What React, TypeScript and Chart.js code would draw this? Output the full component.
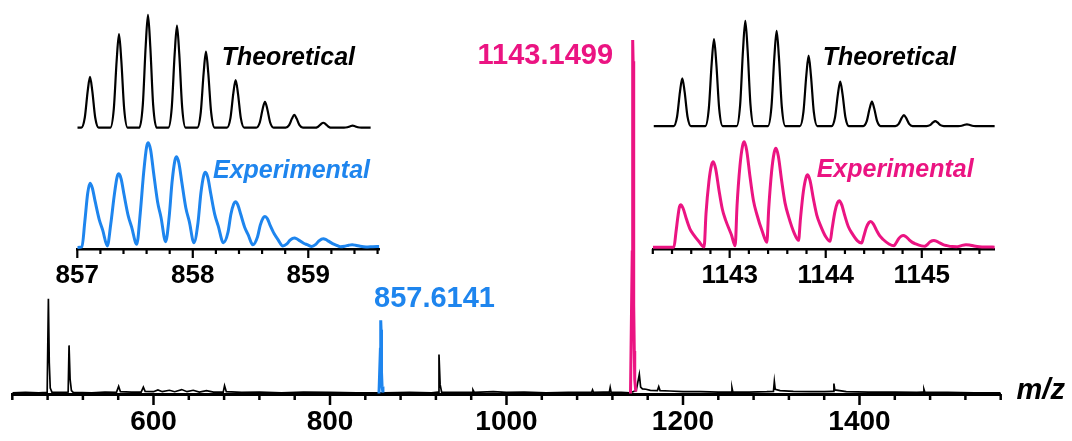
import React, { useEffect, useRef } from "react";
import { Chart, registerables } from "chart.js";

Chart.register(...registerables);

const FONT = '"Liberation Sans", Arial, Helvetica, sans-serif';
const BLUE = "#1E85EE";
const PINK = "#EB1482";

// ---------------- Main spectrum (m/z vs relative intensity, %) ----------------
const specMz = [
  440, 455, 470, 479.5, 480.9, 481.9, 483, 485, 500, 503.3, 504.3, 505.5, 507, 509,
  530, 545, 558, 560.5, 562.5, 575, 586, 588.5, 590.5, 600, 605, 610, 618, 624, 632, 638,
  645, 652, 660, 668, 679, 680.5, 682.5, 700, 720, 745, 770, 800, 830, 855,
  862, 890, 915, 922.5, 923.5, 924.8, 926.5, 945, 961, 962, 963.5, 985, 1000, 1020, 1045,
  1070, 1096.5, 1097.5, 1098.5, 1110, 1116.5, 1117.5, 1118.5, 1130, 1140,
  1147, 1150.5, 1152, 1154, 1158, 1163, 1171, 1172.5, 1174, 1185, 1200, 1220, 1240,
  1254.5, 1255.5, 1256.5, 1275, 1295, 1302.5, 1303.5, 1304.5, 1310, 1325, 1345, 1360,
  1370, 1371, 1372, 1385, 1410, 1440, 1465, 1472, 1473, 1474, 1500, 1530, 1560,
];
const specInt = [
  0.2, 0.3, 0.2, 0.3, 26.8, 8.7, 1.5, 0.3, 0.3, 0.4, 13.6, 4, 0.8, 0.3,
  0.2, 0.4, 0.3, 2, 0.5, 0.4, 0.4, 1.8, 0.6, 0.5, 1.0, 0.5, 0.9, 0.5, 1.1, 0.5,
  0.9, 0.4, 0.8, 0.4, 0.4, 2.2, 0.5, 0.3, 0.4, 0.2, 0.4, 0.3, 0.2, 0.2,
  0.2, 0.3, 0.2, 0.4, 11, 2.5, 0.4, 0.3, 0.3, 1, 0.3, 0.5, 0.3, 0.4, 0.2,
  0.3, 0.3, 1, 0.3, 0.4, 0.4, 1.7, 0.4, 0.3, 0.2,
  0.8, 5.4, 1.8, 1.3, 1.2, 0.9, 0.8, 1.9, 0.8, 0.7, 0.5, 0.5, 0.4,
  0.4, 1.6, 0.4, 0.4, 0.5, 0.6, 3.4, 1.2, 0.8, 0.6, 0.5, 0.5,
  0.6, 2.8, 1, 0.5, 0.4, 0.4, 0.3, 0.4, 1.2, 0.4, 0.3, 0.2, 0.2,
];
const blueMz = [855.5, 857.1, 857.36, 857.61, 857.86, 858.11, 858.37, 858.63, 859, 860];
const blueInt = [0, 12.5, 17, 20.7, 18, 14.5, 9, 6, 2, 0.3];
const pinkMz = [1140.5, 1142.49, 1142.83, 1143.15, 1143.48, 1143.81, 1144.14, 1144.47, 1144.81, 1145.3, 1146.5];
const pinkInt = [0, 40, 81, 100, 94, 69, 44, 25, 12, 4, 0.5];

const mainMajorTicks = [600, 800, 1000, 1200, 1400];
const mainMinorTicks = [
  440, 480, 520, 560, 640, 680, 720, 760, 840, 880, 920, 960, 1040, 1080, 1120, 1160,
  1240, 1280, 1320, 1360, 1440, 1480, 1520, 1560,
];

// ---------------- Left inset: 857.6141 isotope pattern ----------------
const leftTheoMz = [
  857.0,
  857.035, 857.065, 857.09, 857.11, 857.13, 857.155, 857.185,
  857.286, 857.316, 857.341, 857.361, 857.381, 857.406, 857.436,
  857.537, 857.567, 857.592, 857.612, 857.632, 857.657, 857.687,
  857.788, 857.818, 857.843, 857.863, 857.883, 857.908, 857.938,
  858.039, 858.069, 858.094, 858.114, 858.134, 858.159, 858.189,
  858.296, 858.326, 858.351, 858.371, 858.391, 858.416, 858.446,
  858.55, 858.58, 858.605, 858.625, 858.645, 858.67, 858.7,
  858.804, 858.834, 858.859, 858.879, 858.899, 858.924, 858.954,
  859.055, 859.085, 859.11, 859.13, 859.15, 859.175, 859.205,
  859.309, 859.339, 859.364, 859.384, 859.404, 859.429, 859.459,
  859.54,
];
const leftTheoInt = [
  0,
  0, 9, 32.4, 45, 32.4, 9, 0,
  0, 16.6, 59.8, 83, 59.8, 16.6, 0,
  0, 20, 72, 100, 72, 20, 0,
  0, 18.1, 65.2, 90.5, 65.2, 18.1, 0,
  0, 13.5, 48.5, 67.4, 48.5, 13.5, 0,
  0, 8.5, 30.5, 42.3, 30.5, 8.5, 0,
  0, 4.6, 16.6, 23, 16.6, 4.6, 0,
  0, 2.3, 8.1, 11.3, 8.1, 2.3, 0,
  0, 0.9, 3.2, 4.4, 3.2, 0.9, 0,
  0, 0.4, 1.3, 1.8, 1.3, 0.4, 0,
  0,
];
const leftExpMz = [
  857.0, 857.04,
  857.065, 857.09, 857.11, 857.13, 857.155, 857.19, 857.22, 857.26,
  857.29, 857.32, 857.345, 857.36, 857.38, 857.405, 857.44, 857.47, 857.515,
  857.545, 857.575, 857.6, 857.615, 857.635, 857.66, 857.695, 857.725, 857.765,
  857.795, 857.82, 857.845, 857.86, 857.88, 857.905, 857.94, 857.97, 858.01,
  858.045, 858.07, 858.095, 858.11, 858.13, 858.155, 858.19, 858.22, 858.265,
  858.305, 858.33, 858.355, 858.37, 858.39, 858.415, 858.45, 858.48, 858.52,
  858.56, 858.585, 858.61, 858.625, 858.645, 858.67, 858.705, 858.735, 858.78,
  858.815, 858.84, 858.865, 858.88, 858.9, 858.925, 858.96, 858.99, 859.03,
  859.065, 859.09, 859.115, 859.13, 859.15, 859.175, 859.21, 859.24, 859.28,
  859.32, 859.35, 859.38, 859.41, 859.45, 859.5, 859.56, 859.615,
];
const leftExpInt = [
  0.5, 1,
  25, 52, 61.6, 57, 44, 27, 17, 2,
  23, 50, 67.5, 70.4, 65.5, 50.5, 31, 20, 3.5,
  33, 72, 96, 100, 93, 72, 44, 29, 6,
  29, 62, 83, 86.7, 80.5, 62.5, 38, 25, 5,
  24, 52, 69, 72, 67, 52, 32, 21, 5,
  15, 32, 42, 44, 41, 32, 19.5, 12.5, 3,
  10.5, 22, 28.8, 30, 28, 21.5, 13.5, 8.5, 2,
  4, 7.2, 9.1, 9.5, 8.8, 7, 4.5, 3.2, 1.5,
  3.5, 6.5, 8.5, 8.8, 8.2, 6.5, 4.2, 2.8, 1.2,
  1.8, 2.6, 3.1, 2.6, 1.6, 1, 1.3, 1.5,
];
const leftMajorTicks = [857, 858, 859];
const leftMinorTicks = [857.2, 857.4, 857.6, 857.8, 858.2, 858.4, 858.6, 858.8, 859.2, 859.4, 859.6];

// ---------------- Right inset: 1143.1499 isotope pattern ----------------
const rightTheoMz = [
  1142.21,
  1142.417, 1142.453, 1142.483, 1142.507, 1142.531, 1142.561, 1142.597,
  1142.747, 1142.783, 1142.813, 1142.837, 1142.861, 1142.891, 1142.927,
  1143.073, 1143.109, 1143.139, 1143.163, 1143.187, 1143.217, 1143.253,
  1143.399, 1143.435, 1143.465, 1143.489, 1143.513, 1143.543, 1143.579,
  1143.732, 1143.768, 1143.798, 1143.822, 1143.846, 1143.876, 1143.912,
  1144.061, 1144.097, 1144.127, 1144.151, 1144.175, 1144.205, 1144.241,
  1144.391, 1144.427, 1144.457, 1144.481, 1144.505, 1144.535, 1144.571,
  1144.724, 1144.76, 1144.79, 1144.814, 1144.838, 1144.868, 1144.904,
  1145.05, 1145.086, 1145.116, 1145.14, 1145.164, 1145.194, 1145.23,
  1145.38, 1145.416, 1145.446, 1145.47, 1145.494, 1145.524, 1145.56,
  1145.76,
];
const rightTheoInt = [
  0,
  0, 9.1, 32.6, 45.3, 32.6, 9.1, 0,
  0, 16.5, 59.5, 82.6, 59.5, 16.5, 0,
  0, 20, 72, 100, 72, 20, 0,
  0, 18.1, 65.2, 90.5, 65.2, 18.1, 0,
  0, 13.4, 48.1, 66.8, 48.1, 13.4, 0,
  0, 8.4, 30.3, 42.1, 30.3, 8.4, 0,
  0, 4.6, 16.6, 23.1, 16.6, 4.6, 0,
  0, 2.1, 7.5, 10.4, 7.5, 2.1, 0,
  0, 0.9, 3.4, 4.7, 3.4, 0.9, 0,
  0, 0.3, 1.2, 1.6, 1.2, 0.3, 0,
  0,
];
const rightExpMz = [
  1142.2, 1142.42,
  1142.44, 1142.465, 1142.478, 1142.49, 1142.515, 1142.55, 1142.585, 1142.62, 1142.68, 1142.734,
  1142.754, 1142.784, 1142.811, 1142.829, 1142.854, 1142.889, 1142.924, 1142.959, 1143.019, 1143.057,
  1143.077, 1143.107, 1143.134, 1143.152, 1143.177, 1143.212, 1143.247, 1143.282, 1143.342, 1143.387,
  1143.407, 1143.437, 1143.464, 1143.482, 1143.507, 1143.542, 1143.577, 1143.612, 1143.672, 1143.717,
  1143.737, 1143.767, 1143.794, 1143.812, 1143.837, 1143.872, 1143.907, 1143.942, 1144.002, 1144.046,
  1144.066, 1144.096, 1144.123, 1144.141, 1144.166, 1144.201, 1144.236, 1144.271, 1144.331, 1144.373,
  1144.393, 1144.423, 1144.45, 1144.468, 1144.493, 1144.528, 1144.563, 1144.598, 1144.658, 1144.712,
  1144.732, 1144.762, 1144.789, 1144.807, 1144.832, 1144.867, 1144.902, 1144.937, 1144.997, 1145.032,
  1145.052, 1145.082, 1145.109, 1145.127, 1145.152, 1145.187, 1145.222, 1145.257, 1145.317, 1145.365,
  1145.39, 1145.42, 1145.46, 1145.495, 1145.545, 1145.6, 1145.68, 1145.76,
];
const rightExpInt = [
  0.6, 0.8,
  14, 32, 39, 40.6, 37.4, 27.2, 18.3, 13, 6.1, 1,
  32.5, 62.5, 78, 81.2, 74.7, 54.4, 36.5, 26, 12.2, 2,
  40, 77, 96, 100, 92, 67, 45, 32, 15, 5.4,
  37.5, 72.2, 90, 93.8, 86.3, 62.8, 42.2, 30, 14, 7.2,
  27.5, 53, 66, 68.8, 63.3, 46.1, 31, 22, 10.3, 6.3,
  17.8, 34.2, 42.6, 44.4, 40.8, 29.7, 20, 14.2, 6.7, 4.7,
  10, 19.3, 24, 25, 23, 16.8, 11.3, 8, 3.8, 2.2,
  4.7, 9.1, 11.3, 11.8, 10.9, 7.9, 5.3, 3.8, 2, 1.6,
  2.8, 5.5, 6.8, 7.1, 6.5, 4.8, 3.2, 2.3, 1.3, 1.2,
  1.6, 2.5, 3.1, 2.8, 1.9, 1.2, 0.9, 0.8,
];
const rightMajorTicks = [1143, 1144, 1145];
const rightMinorTicks = [
  1142.2, 1142.4, 1142.6, 1142.8, 1143.2, 1143.4, 1143.6, 1143.8,
  1144.2, 1144.4, 1144.6, 1144.8, 1145.2, 1145.4, 1145.6,
];

// ---------------- helpers ----------------
function toXY(xs: number[], ys: number[]) {
  return xs.map((x, i) => ({ x, y: ys[i] }));
}

function tickPlugin(id: string, major: number[], minor: number[], majorLen: number, minorLen: number, width: number) {
  return {
    id,
    afterDraw(chart: any) {
      const s = chart.scales.x;
      const ctx = chart.ctx;
      const y0 = chart.chartArea.bottom;
      ctx.save();
      ctx.strokeStyle = "#000";
      ctx.lineWidth = width;
      ctx.lineCap = "butt";
      const draw = (v: number, len: number) => {
        const px = s.getPixelForValue(v);
        ctx.beginPath();
        ctx.moveTo(px, y0);
        ctx.lineTo(px, y0 + len);
        ctx.stroke();
      };
      major.forEach((v) => draw(v, majorLen));
      minor.forEach((v) => draw(v, minorLen));
      ctx.restore();
    },
  };
}

type TextItem = { text: string; x: number; y: number; yAxis: string; align: CanvasTextAlign; font: string; color: string };

function textPlugin(id: string, items: TextItem[]) {
  return {
    id,
    afterDraw(chart: any) {
      const ctx = chart.ctx;
      ctx.save();
      items.forEach((it) => {
        const px = chart.scales.x.getPixelForValue(it.x);
        const py = chart.scales[it.yAxis].getPixelForValue(it.y);
        ctx.font = it.font;
        ctx.fillStyle = it.color;
        ctx.textAlign = it.align;
        ctx.textBaseline = "alphabetic";
        ctx.fillText(it.text, px, py);
      });
      ctx.restore();
    },
  };
}

function xAxis(min: number, max: number, major: number[], fontSize: number, pad: number, height: number, borderW: number) {
  return {
    type: "linear",
    position: "bottom",
    min,
    max,
    grid: { display: false, drawTicks: false },
    border: { display: true, color: "#000", width: borderW },
    ticks: {
      color: "#000",
      font: { family: FONT, size: fontSize, weight: "bold" },
      padding: pad,
      maxRotation: 0,
      autoSkip: false,
      callback: (v: any) => String(v),
    },
    afterBuildTicks: (s: any) => {
      s.ticks = major.map((value) => ({ value }));
    },
    afterFit: (s: any) => {
      s.height = height;
    },
  };
}

const baseOptions = {
  animation: false,
  responsive: false,
  devicePixelRatio: 1,
  events: [],
  plugins: { legend: { display: false }, tooltip: { enabled: false } },
};

export default function App() {
  const mainRef = useRef<HTMLCanvasElement>(null);
  const leftRef = useRef<HTMLCanvasElement>(null);
  const rightRef = useRef<HTMLCanvasElement>(null);

  useEffect(() => {
    const charts: Chart[] = [];

    // main spectrum
    charts.push(
      new Chart(mainRef.current as HTMLCanvasElement, {
        type: "line",
        data: {
          datasets: [
            { data: toXY(pinkMz, pinkInt), borderColor: PINK, borderWidth: 3, pointRadius: 0, order: 0 },
            { data: toXY(blueMz, blueInt), borderColor: BLUE, borderWidth: 3, pointRadius: 0, order: 0 },
            { data: toXY(specMz, specInt), borderColor: "#000", borderWidth: 1.7, pointRadius: 0, order: 1 },
          ],
        },
        options: {
          ...baseOptions,
          layout: { padding: { left: 12.3, right: 71.3, top: 20, bottom: 0 } },
          scales: {
            x: xAxis(440, 1560, mainMajorTicks, 28, 11, 47, 3),
            y: { type: "linear", display: false, min: -0.15, max: 105.65 },
          },
        } as any,
        plugins: [
          tickPlugin("mainTicks", mainMajorTicks, mainMinorTicks, 11, 6, 2.5),
          textPlugin("mainText", [
            { text: "857.6141", x: 849.9, y: 24.38, yAxis: "y", align: "left", font: `bold 29px ${FONT}`, color: BLUE },
            { text: "1143.1499", x: 1120.7, y: 93.12, yAxis: "y", align: "right", font: `bold 29px ${FONT}`, color: PINK },
            { text: "m/z", x: 1578, y: -1.56, yAxis: "y", align: "left", font: `italic bold 29px ${FONT}`, color: "#000" },
          ]),
        ],
      } as any)
    );

    // left inset
    charts.push(
      new Chart(leftRef.current as HTMLCanvasElement, {
        type: "line",
        data: {
          datasets: [
            { data: toXY(leftTheoMz, leftTheoInt), yAxisID: "yTheo", borderColor: "#000", borderWidth: 2.2, pointRadius: 0, cubicInterpolationMode: "monotone" },
            { data: toXY(leftExpMz, leftExpInt), yAxisID: "yExp", borderColor: BLUE, borderWidth: 3, pointRadius: 0, cubicInterpolationMode: "monotone" },
          ],
        },
        options: {
          ...baseOptions,
          layout: { padding: { left: 77.3, right: 692.7, top: 10, bottom: 0 } },
          scales: {
            x: xAxis(857.0, 859.615, leftMajorTicks, 26, 11, 51, 2.5),
            yTheo: { type: "linear", display: false, min: -107.6, max: 104.4 },
            yExp: { type: "linear", display: false, min: -0.95, max: 226 },
          },
        } as any,
        plugins: [
          tickPlugin("leftTicks", leftMajorTicks, leftMinorTicks, 9, 5, 2.2),
          textPlugin("leftText", [
            { text: "Theoretical", x: 858.25, y: 55.6, yAxis: "yTheo", align: "left", font: `italic bold 25px ${FONT}`, color: "#000" },
            { text: "Experimental", x: 858.175, y: 66.2, yAxis: "yExp", align: "left", font: `italic bold 25px ${FONT}`, color: BLUE },
          ]),
        ],
      } as any)
    );

    // right inset
    charts.push(
      new Chart(rightRef.current as HTMLCanvasElement, {
        type: "line",
        data: {
          datasets: [
            { data: toXY(rightTheoMz, rightTheoInt), yAxisID: "yTheo", borderColor: "#000", borderWidth: 2.2, pointRadius: 0, cubicInterpolationMode: "monotone" },
            { data: toXY(rightExpMz, rightExpInt), yAxisID: "yExp", borderColor: PINK, borderWidth: 3, pointRadius: 0, cubicInterpolationMode: "monotone" },
          ],
        },
        options: {
          ...baseOptions,
          layout: { padding: { left: 652.8, right: 77.2, top: 10, bottom: 0 } },
          scales: {
            x: xAxis(1142.2, 1145.76, rightMajorTicks, 26, 11, 51, 2.5),
            yTheo: { type: "linear", display: false, min: -116.8, max: 110.2 },
            yExp: { type: "linear", display: false, min: -0.94, max: 223.9 },
          },
        } as any,
        plugins: [
          tickPlugin("rightTicks", rightMajorTicks, rightMinorTicks, 9, 5, 2.2),
          textPlugin("rightText", [
            { text: "Theoretical", x: 1143.968, y: 57.9, yAxis: "yTheo", align: "left", font: `italic bold 25px ${FONT}`, color: "#000" },
            { text: "Experimental", x: 1143.906, y: 67.1, yAxis: "yExp", align: "left", font: `italic bold 25px ${FONT}`, color: PINK },
          ]),
        ],
      } as any)
    );

    return () => {
      charts.forEach((c) => c.destroy());
    };
  }, []);

  const canvasStyle: React.CSSProperties = { position: "absolute", left: 0, top: 0 };

  return (
    <div style={{ position: "fixed", left: 0, top: 0, width: 1072, height: 441, background: "#fff", overflow: "hidden" }}>
      <canvas ref={mainRef} width={1072} height={441} style={{ ...canvasStyle, width: 1072, height: 441 }} />
      <canvas ref={leftRef} width={1072} height={300} style={{ ...canvasStyle, width: 1072, height: 300 }} />
      <canvas ref={rightRef} width={1072} height={300} style={{ ...canvasStyle, width: 1072, height: 300 }} />
    </div>
  );
}
